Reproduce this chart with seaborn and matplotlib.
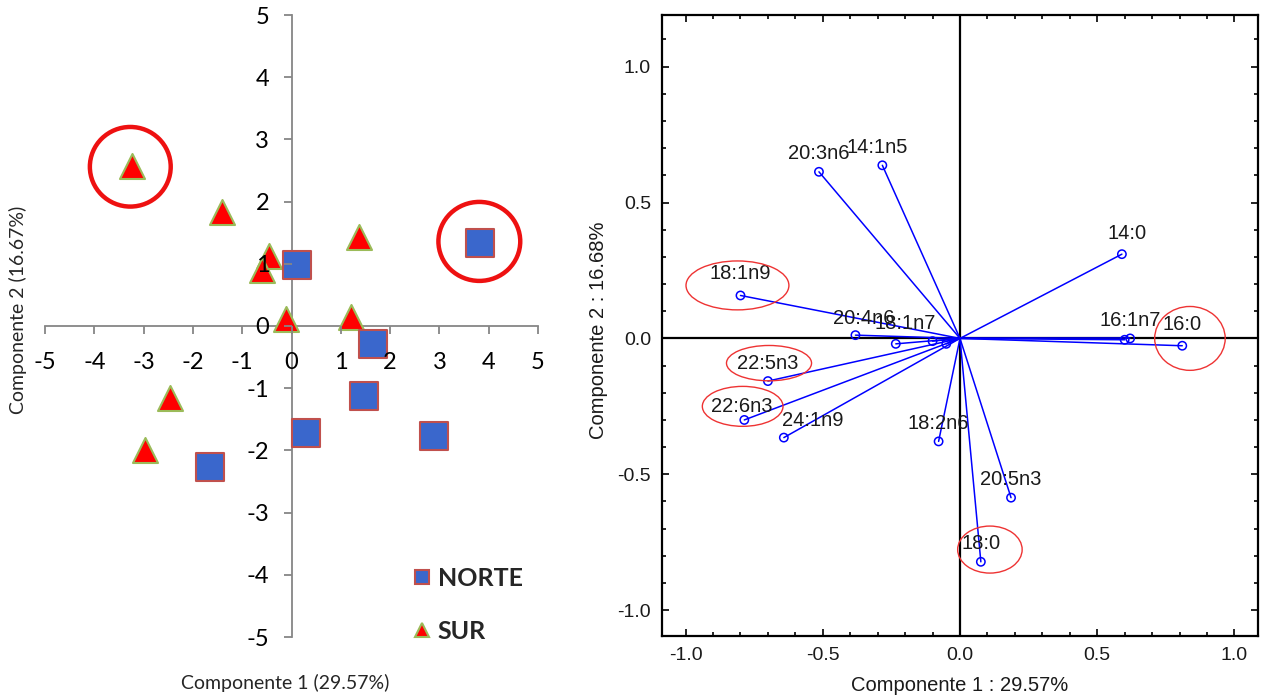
import matplotlib
matplotlib.use("Agg")
import matplotlib.pyplot as plt
import seaborn as sns
import pandas as pd
from matplotlib.patches import Ellipse
from matplotlib.ticker import MultipleLocator, FormatStrFormatter
from matplotlib.lines import Line2D

# ---------------- data: left panel (scores) ----------------
norte_c1 = [0.12, 3.82, 1.66, 1.47, 0.30, 2.90, -1.66]
norte_c2 = [0.98, 1.33, -0.29, -1.13, -1.72, -1.77, -2.26]
sur_c1 = [-3.23, -1.40, -0.45, -0.59, 1.37, -0.12, 1.20, -2.47, -2.97]
sur_c2 = [2.58, 1.83, 1.13, 0.90, 1.43, 0.11, 0.14, -1.16, -1.99]
left_ticks = [-5, -4, -3, -2, -1, 0, 1, 2, 3, 4, 5]
# highlighted score circles (centre x, centre y, width, height)
left_circles = [(-3.27, 2.56, 1.64, 1.28), (3.81, 1.36, 1.66, 1.27)]

# ---------------- data: right panel (loadings) ----------------
acidos = ["20:3n6", "14:1n5", "14:0", "18:1n9", "20:4n6", "18:1n7", "16:1n7",
          "16:0", "22:5n3", "22:6n3", "24:1n9", "18:2n6", "20:5n3", "18:0",
          "", "", ""]
comp1 = [-0.514, -0.283, 0.59, -0.80, -0.381, -0.234, 0.62,
         0.81, -0.70, -0.786, -0.642, -0.078, 0.186, 0.076,
         -0.10, -0.05, 0.60]
comp2 = [0.613, 0.637, 0.31, 0.158, 0.012, -0.02, 0.0,
         -0.027, -0.157, -0.30, -0.365, -0.379, -0.586, -0.822,
         -0.01, -0.02, -0.005]
# highlighted loading ellipses (centre x, centre y, width, height)
right_ellipses = [(-0.811, 0.195, 0.375, 0.18), (-0.696, -0.091, 0.31, 0.13),
                  (-0.792, -0.25, 0.294, 0.147), (0.838, 0.0, 0.257, 0.235),
                  (0.109, -0.777, 0.235, 0.173)]
# label offsets in points
label_offsets = {"24:1n9": (21, 12), "20:4n6": (6, 12), "18:1n7": (7, 15),
                 "14:1n5": (-4, 13), "14:0": (4, 15), "22:6n3": (-2, 10),
                 "18:1n9": (0, 16), "16:0": (0, 15)}

sns.set_style("white")
plt.rcParams["font.family"] = ["Lato", "DejaVu Sans"]
plt.rcParams["axes.unicode_minus"] = False

fig = plt.figure(figsize=(12.64, 7), dpi=100)
axL = fig.add_axes([45 / 1264, 63 / 700, 493 / 1264, 622 / 700])
axR = fig.add_axes([662 / 1264, 64 / 700, 596 / 1264, 621 / 700])

# ================= LEFT PANEL =================
df_n = pd.DataFrame({"c1": norte_c1, "c2": norte_c2})
df_s = pd.DataFrame({"c1": sur_c1, "c2": sur_c2})
sns.scatterplot(data=df_s, x="c1", y="c2", marker="^", s=18 ** 2,
                color="#FF0000", edgecolor="#9BBB59", linewidth=1.5,
                ax=axL, zorder=1, legend=False)
sns.scatterplot(data=df_n, x="c1", y="c2", marker="s", s=20 ** 2,
                color="#3A67CC", edgecolor="#C0504D", linewidth=1.5,
                ax=axL, zorder=1.5, legend=False)

for cx, cy, w, h in left_circles:
    axL.add_patch(Ellipse((cx, cy), w, h, fill=False, ec="#EE1111", lw=3.2, zorder=2))

axL.set_xlim(-5, 5)
axL.set_ylim(-5, 5)
axL.set_xticks(left_ticks)
axL.set_yticks(left_ticks)
axL.set_axisbelow(False)
for side in ["top", "right"]:
    axL.spines[side].set_visible(False)
for side in ["left", "bottom"]:
    axL.spines[side].set_position("zero")
    axL.spines[side].set_color("#868686")
    axL.spines[side].set_linewidth(1.3)
    axL.spines[side].set_zorder(0.5)
axL.tick_params(axis="both", which="major", direction="out", length=6, width=1.3,
                color="#868686", labelsize=17, labelcolor="#000000")
axL.tick_params(axis="x", pad=13, bottom=True)
axL.tick_params(axis="y", pad=10, left=True)
axL.set_xlabel("Componente 1 (29.57%)", fontsize=14)
axL.set_ylabel("Componente 2 (16.67%)", fontsize=14)
axL.xaxis.set_label_coords(0.487, -0.074)
axL.yaxis.set_label_coords(-0.055, 0.526)
axL.xaxis.label.set_va("center")
axL.yaxis.label.set_va("center")

handles = [Line2D([], [], ls="none", marker="s", ms=10.5, mfc="#3A67CC", mec="#C0504D", mew=1.5),
           Line2D([], [], ls="none", marker="^", ms=10.5, mfc="#FF0000", mec="#9BBB59", mew=1.5)]
axL.legend(handles, ["NORTE", "SUR"], loc="lower left", bbox_to_anchor=(0.703, -0.037),
           frameon=False, prop={"weight": "bold", "size": 18}, handletextpad=0.15,
           labelspacing=1.2, handlelength=1.0, borderpad=0.2)

# ================= RIGHT PANEL =================
arial = ["Liberation Sans", "DejaVu Sans"]
df_r = pd.DataFrame({"acido": acidos, "c1": comp1, "c2": comp2})
axR.axhline(0, color="black", lw=1.6, zorder=2)
axR.axvline(0, color="black", lw=1.6, zorder=2)
for _, row in df_r.iterrows():
    axR.plot([0, row.c1], [0, row.c2], color="#0000FF", lw=1.1, zorder=3)
sns.scatterplot(data=df_r, x="c1", y="c2", marker="o", s=6 ** 2, color="#0000FF",
                ax=axR, zorder=4, legend=False)
coll = axR.collections[-1]
coll.set_facecolor("none")
coll.set_edgecolor("#0000FF")
coll.set_linewidth(1.1)

for _, row in df_r.iterrows():
    if not row.acido:
        continue
    dx, dy = label_offsets.get(row.acido, (0, 13))
    axR.annotate(row.acido, (row.c1, row.c2), xytext=(dx, dy), textcoords="offset points",
                 ha="center", va="center", fontsize=14.5, family=arial,
                 color="#1a1a1a", zorder=5)

for cx, cy, w, h in right_ellipses:
    axR.add_patch(Ellipse((cx, cy), w, h, fill=False, ec="#EE3333", lw=1.0, zorder=6))

axR.set_xlim(-1.086, 1.086)
axR.set_ylim(-1.095, 1.19)
axR.xaxis.set_major_locator(MultipleLocator(0.5))
axR.yaxis.set_major_locator(MultipleLocator(0.5))
axR.xaxis.set_minor_locator(MultipleLocator(0.1))
axR.yaxis.set_minor_locator(MultipleLocator(0.1))
axR.xaxis.set_major_formatter(FormatStrFormatter("%.1f"))
axR.yaxis.set_major_formatter(FormatStrFormatter("%.1f"))
axR.tick_params(which="both", direction="in", top=True, right=True, bottom=True, left=True,
                color="black", width=1.2)
axR.tick_params(which="major", length=5, labelsize=14, labelcolor="#1a1a1a", pad=8)
axR.tick_params(which="minor", length=3)
for lab in axR.get_xticklabels() + axR.get_yticklabels():
    lab.set_family(arial)
for sp in axR.spines.values():
    sp.set_color("black")
    sp.set_linewidth(1.6)
axR.set_xlabel("Componente 1 : 29.57%", fontsize=14.5, family=arial, color="#1a1a1a")
axR.set_ylabel("Componente 2 : 16.68%", fontsize=14.5, family=arial, color="#1a1a1a")
axR.xaxis.set_label_coords(0.5, -0.0805)
axR.yaxis.set_label_coords(-0.107, 0.493)
axR.xaxis.label.set_va("center")
axR.yaxis.label.set_va("center")

fig.savefig("out.png", dpi=100)
